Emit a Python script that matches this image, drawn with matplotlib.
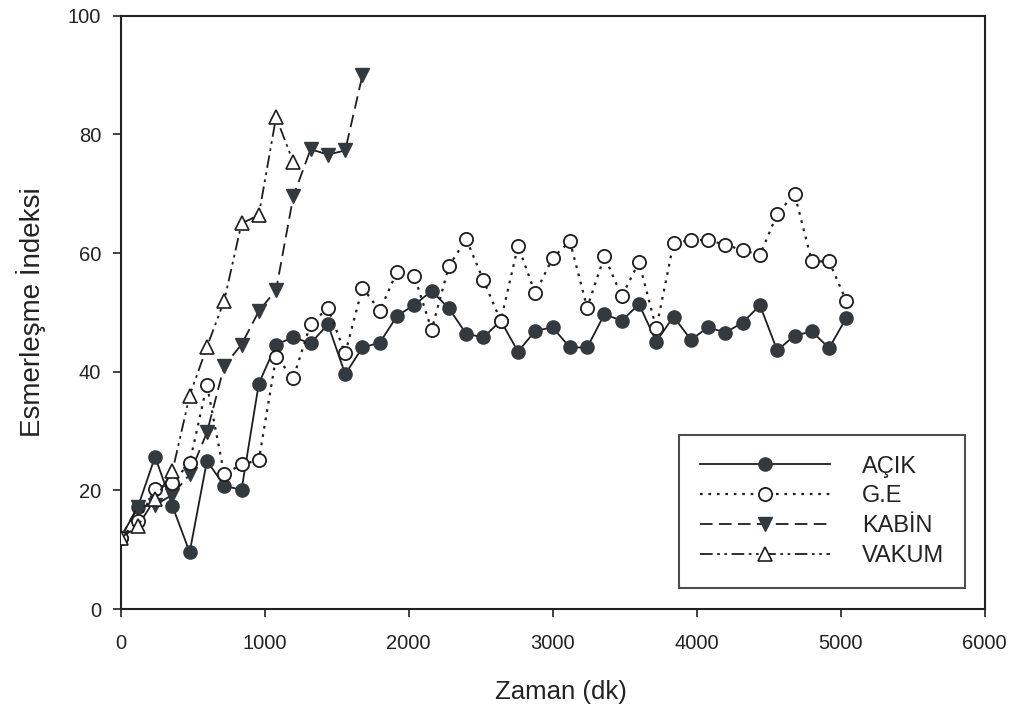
import matplotlib
matplotlib.use("Agg")
import matplotlib.pyplot as plt

plt.rcParams['font.family'] = ['Liberation Sans', 'DejaVu Sans']

step = 120
acik = [12, 17.2, 25.7, 17.4, 9.6, 25.0, 20.8, 20.1, 38.0, 44.6, 45.8, 44.8, 48.0, 39.6,
        44.1, 44.9, 49.4, 51.3, 53.6, 50.7, 46.4, 45.8, 48.6, 43.4, 46.9, 47.5, 44.1, 44.1,
        49.7, 48.6, 51.4, 45.1, 49.3, 45.4, 47.5, 46.6, 48.3, 51.2, 43.6, 46.1, 46.8, 44.0, 49.1]
ge = [12, 14.8, 20.2, 21.3, 24.7, 37.8, 22.7, 24.4, 25.1, 42.5, 39.0, 48.1, 50.7, 43.1,
      54.2, 50.3, 56.9, 56.1, 47.1, 57.8, 62.4, 55.4, 48.6, 61.2, 53.2, 59.2, 62.0, 50.8,
      59.5, 52.7, 58.5, 47.3, 61.7, 62.2, 62.2, 61.4, 60.5, 59.7, 66.6, 70.0, 58.6, 58.6, 51.9]
kabin = [12, 17.3, 17.5, 19.3, 22.7, 29.8, 41.0, 44.6, 50.2, 53.8, 69.6, 77.5, 76.6, 77.3, 90.0]
vakum = [12, 14.0, 18.6, 23.2, 36.0, 44.2, 52.0, 65.0, 66.4, 82.9, 75.3]

labels = ['AÇIK', 'G.E', 'KABİN', 'VAKUM']
xticks = [0, 1000, 2000, 3000, 4000, 5000, 6000]
yticks = [0, 20, 40, 60, 80, 100]

def times(vals):
    return [i * step for i in range(len(vals))]

fig = plt.figure(figsize=(10.13, 7.15), dpi=100)
ax = fig.add_axes([0.119, 0.148, 0.853, 0.830])

dark = '#1e1e1e'
fill = '#333a3f'

ax.plot(times(acik), acik, linestyle='-', color=dark, lw=1.3, marker='o', ms=9.5,
        mfc=fill, mec=fill, label=labels[0], zorder=3)
ax.plot(times(ge), ge, linestyle=(0, (1.2, 2.6)), color=dark, lw=1.6, marker='o', ms=9.5,
        mfc='white', mec=dark, mew=1.3, label=labels[1], zorder=4)
ax.plot(times(kabin), kabin, linestyle=(0, (7, 3.5)), color=dark, lw=1.3, marker='v', ms=10.5,
        mfc=fill, mec=fill, label=labels[2], zorder=3)
ax.plot(times(vakum), vakum, linestyle=(0, (7, 2.5, 1.5, 2.5, 1.5, 2.5)), color=dark, lw=1.3,
        marker='^', ms=10.5, mfc='white', mec=dark, mew=1.2, label=labels[3], zorder=4)

ax.set_xlim(0, 6000)
ax.set_ylim(0, 100)
ax.set_xticks(xticks)
ax.set_yticks(yticks)
ax.tick_params(axis='both', direction='out', length=6, width=1.2, labelsize=14.5, colors='#222')
ax.tick_params(axis='x', pad=12)
ax.tick_params(axis='y', pad=8)
for s in ax.spines.values():
    s.set_linewidth(1.5)
    s.set_color('#222')

ax.set_xlabel('Zaman (dk)', fontsize=18.5, color='#222')
ax.xaxis.set_label_coords(0.51, -0.12)
ax.set_ylabel('Esmerleşme İndeksi', fontsize=20, color='#222')
ax.yaxis.set_label_coords(-0.086, 0.5)

leg = ax.legend(loc='lower right', bbox_to_anchor=(0.977, 0.036), borderaxespad=0,
                fontsize=17, handlelength=5.5, handletextpad=1.35, labelspacing=0.33,
                borderpad=0.88, fancybox=False, frameon=True, numpoints=1)
leg.get_frame().set_edgecolor('#222')
leg.get_frame().set_linewidth(1.5)
for t in leg.get_texts():
    t.set_color('#222')

fig.savefig('out.png', dpi=100)
